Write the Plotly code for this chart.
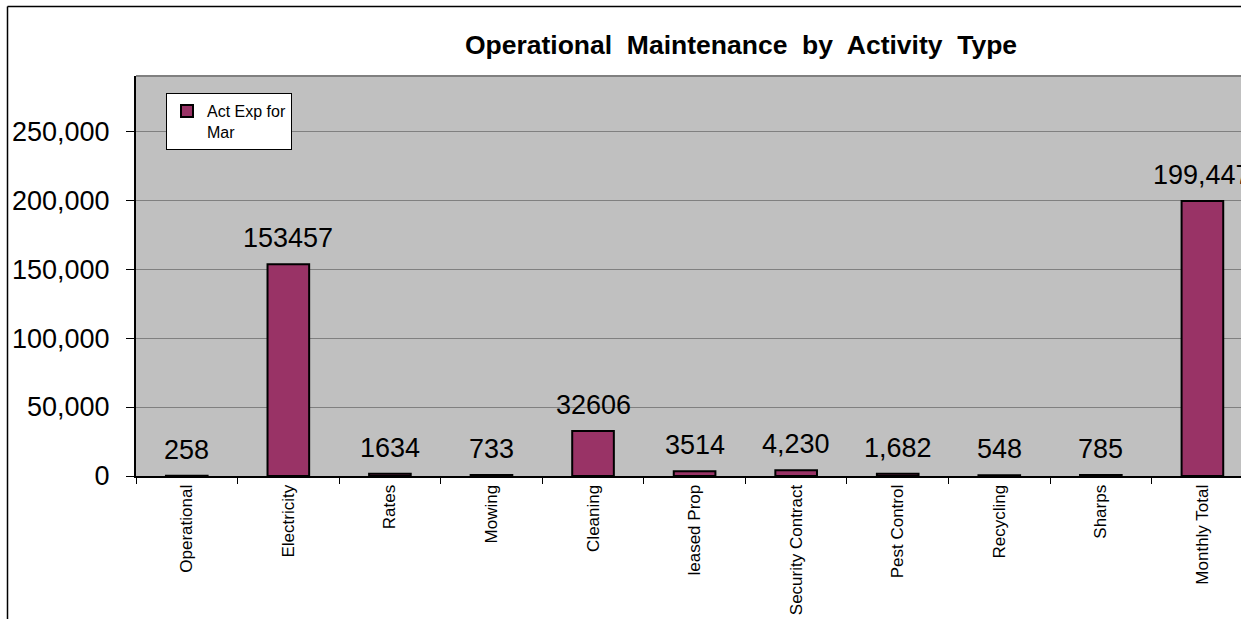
import plotly.graph_objects as go

categories = ["Operational", "Electricity", "Rates", "Mowing", "Cleaning", "leased Prop",
              "Security Contract", "Pest Control", "Recycling", "Sharps", "Monthly Total"]
values = [258, 153457, 1634, 733, 32606, 3514, 4230, 1682, 548, 785, 199447]
value_labels = ["258", "153457", "1634", "733", "32606", "3514", "4,230", "1,682", "548", "785", "199,447"]
series_name = "Act Exp for<br>Mar"
y_ticks = [0, 50000, 100000, 150000, 200000, 250000]

W, H = 1241, 619
ML, MR, MT, MB = 136, 0, 76, 143
PW, PH = W - ML - MR, H - MT - MB
FONT = "Liberation Sans, Arial, sans-serif"


def px_x(x):
    return (x - ML) / PW


def px_y(y):
    return (H - MB - y) / PH


fig = go.Figure()
fig.add_trace(go.Bar(
    x=categories, y=values, name=series_name,
    width=0.41,
    marker=dict(color="#993366", line=dict(color="black", width=2)),
    showlegend=True,
))

for c, v, t in zip(categories, values, value_labels):
    fig.add_annotation(x=c, y=v, text=t, showarrow=False, yanchor="bottom",
                       yshift=9, font=dict(family=FONT, size=27, color="black"))

shapes = [
    # top border of plot area
    dict(type="line", xref="paper", yref="paper", x0=0, x1=1.02, y0=1, y1=1,
         line=dict(color="#808080", width=2)),
    # outer chart border (left and top)
    dict(type="line", xref="paper", yref="paper", x0=px_x(7.5), x1=px_x(7.5),
         y0=px_y(6.5), y1=px_y(640), line=dict(color="black", width=1.5)),
    dict(type="line", xref="paper", yref="paper", x0=px_x(7.5), x1=px_x(1260),
         y0=px_y(6.5), y1=px_y(6.5), line=dict(color="black", width=1.5)),
]

fig.update_layout(
    width=W, height=H,
    margin=dict(l=ML, r=MR, t=MT, b=MB, pad=0),
    paper_bgcolor="white", plot_bgcolor="#C0C0C0",
    font=dict(family=FONT, color="black"),
    title=dict(text="Operational  Maintenance  by  Activity  Type",
               font=dict(family=FONT, size=26.5, color="black", weight="bold"),
               x=741 / W, xref="container", xanchor="center",
               y=1 - 45 / H, yref="container", yanchor="middle"),
    showlegend=True,
    legend=dict(x=px_x(166), y=px_y(93), xanchor="left", yanchor="top",
                bgcolor="white", bordercolor="black", borderwidth=1,
                font=dict(family=FONT, size=16, color="black"),
                itemwidth=30, valign="top"),
    xaxis=dict(type="category", range=[-0.5, 10.38], tickson="boundaries",
               ticks="outside", ticklen=6, tickwidth=1, tickcolor="black",
               showline=True, linecolor="black", linewidth=2,
               tickangle=-90, tickfont=dict(family=FONT, size=17, color="black"),
               showgrid=False, fixedrange=True),
    yaxis=dict(range=[0, 290000], tickvals=y_ticks, tickformat=",d",
               ticks="outside", ticklen=8, tickwidth=1, tickcolor="black",
               showline=True, linecolor="black", linewidth=2,
               showgrid=True, gridcolor="#808080", gridwidth=1,
               zeroline=False,
               tickfont=dict(family=FONT, size=27, color="black"),
               ticklabelstandoff=11, fixedrange=True),
    shapes=shapes,
    bargap=0.59,
)

fig.write_html("out.html", config={"displayModeBar": False},
               post_script="document.body.style.margin='0';")
